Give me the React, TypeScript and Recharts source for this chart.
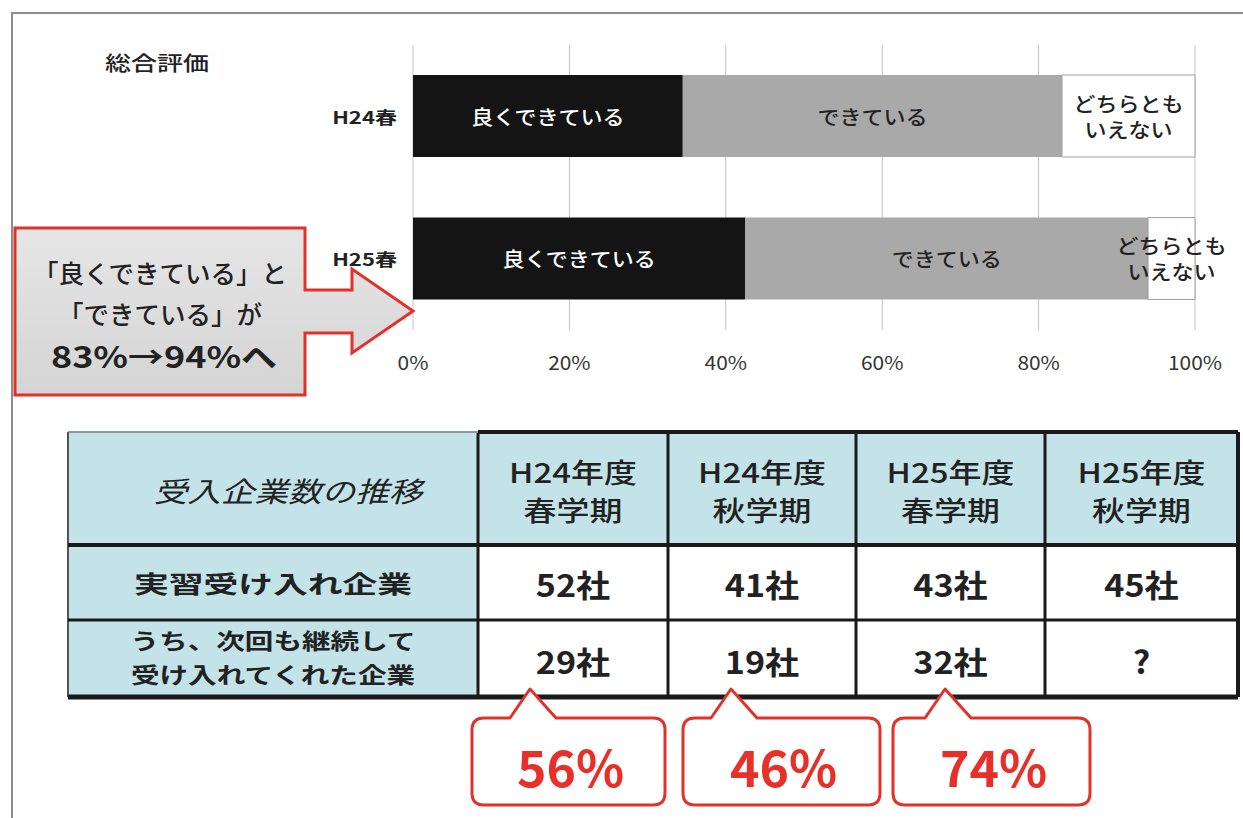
import React from 'react';
import { BarChart, Bar, XAxis, YAxis, CartesianGrid, LabelList } from 'recharts';

const FONT = '"Noto Sans CJK JP", "Noto Sans", sans-serif';

// 総合評価 (stacked %)
const periods = ['H24春', 'H25春'];
const goodShare = [34.5, 42.5];
const okShare = [48.5, 51.5];
const neutralShare = [17, 6];
const segmentNames = [['良くできている'], ['できている'], ['どちらとも', 'いえない']];
const pctTicks = [0, 20, 40, 60, 80, 100];

// 受入企業数の推移
const termHeaders = [
  ['H24年度', '春学期'],
  ['H24年度', '秋学期'],
  ['H25年度', '春学期'],
  ['H25年度', '秋学期'],
];
const hostCompanies = [52, 41, 43, 45];
const repeatCompanies: (number | null)[] = [29, 19, 32, null];
const retentionRates = [56, 46, 74];

const chartData = periods.map((p, i) => ({
  period: p,
  good: goodShare[i],
  ok: okShare[i],
  neutral: neutralShare[i],
}));

function SText({ x, y, size, weight = 400, fill = '#222', sx = 1, anchor = 'middle', italic = false, children }: any) {
  return (
    <text
      transform={`translate(${x},${y}) scale(${sx},1)`}
      textAnchor={anchor}
      dominantBaseline="central"
      fontSize={size}
      fontWeight={weight}
      fill={fill}
      fontFamily={FONT}
      fontStyle={italic ? 'italic' : 'normal'}
    >
      {children}
    </text>
  );
}

const segLabel = (seg: number, color: string, size: number) => (props: any) => {
  const { x, y, width, height } = props;
  const lines = segmentNames[seg];
  const cx = x + width / 2;
  const cy = y + height / 2;
  const gap = 26;
  return (
    <g>
      {lines.map((t, k) => (
        <SText key={k} x={cx} y={cy + (k - (lines.length - 1) / 2) * gap} size={size} weight={500} fill={color} sx={1.1}>
          {t}
        </SText>
      ))}
    </g>
  );
};

const XTick = ({ x, y, payload }: any) => (
  <SText x={x} y={y + 30} size={19} fill="#333" sx={1.1}>{payload.value}%</SText>
);

const YTick = ({ x, y, payload }: any) => (
  <SText x={x} y={y} size={17} weight={700} fill="#222" sx={1.3} anchor="end">{payload.value}</SText>
);

const colX = [68, 478, 668, 856, 1045, 1238];
const rowY = [432, 545, 620, 697];
const calloutBoxes = [[472, 665], [683, 880], [893, 1090]];
const calloutTips = [530, 731, 945];

function calloutPath(x0: number, x1: number, y0: number, y1: number, tip: number, tipY: number) {
  const r = 12;
  return `M${x0 + r},${y0} L${tip - 20},${y0} L${tip},${tipY} L${tip + 26},${y0} L${x1 - r},${y0} Q${x1},${y0} ${x1},${y0 + r} L${x1},${y1 - r} Q${x1},${y1} ${x1 - r},${y1} L${x0 + r},${y1} Q${x0},${y1} ${x0},${y1 - r} L${x0},${y0 + r} Q${x0},${y0} ${x0 + r},${y0} Z`;
}

export default function App() {
  const blue = '#c3e3e9';
  const line = '#1a1a1a';
  return (
    <div style={{ position: 'absolute', left: 0, top: 0, width: 1243, height: 818, background: '#fff', overflow: 'hidden' }}>
      <svg width={1243} height={818} style={{ position: 'absolute', left: 0, top: 0 }}>
        <path d="M12,818 L12,13 L1243,13" fill="none" stroke="#8c8c8c" strokeWidth={2} />
        <SText x={157} y={62} size={20} weight={500} sx={1.3}>総合評価</SText>

        {/* table */}
        <rect x={colX[0]} y={rowY[0]} width={colX[5] - colX[0]} height={rowY[1] - rowY[0]} fill={blue} />
        <rect x={colX[0]} y={rowY[1]} width={colX[1] - colX[0]} height={rowY[3] - rowY[1]} fill={blue} />
        {colX.slice(1, 5).map((x) => (
          <line key={x} x1={x} x2={x} y1={rowY[0]} y2={rowY[3]} stroke={line} strokeWidth={3} />
        ))}
        <line x1={colX[1]} x2={colX[5]} y1={rowY[0]} y2={rowY[0]} stroke={line} strokeWidth={4} />
        <line x1={colX[0]} x2={colX[1]} y1={rowY[0]} y2={rowY[0]} stroke="#8a9a9d" strokeWidth={2} />
        <line x1={colX[0]} x2={colX[0]} y1={rowY[0]} y2={rowY[3]} stroke="#555" strokeWidth={2} />
        <line x1={colX[5]} x2={colX[5]} y1={rowY[0]} y2={rowY[3]} stroke={line} strokeWidth={4} />
        <line x1={colX[0]} x2={colX[5]} y1={rowY[1]} y2={rowY[1]} stroke={line} strokeWidth={4} />
        <line x1={colX[0]} x2={colX[5]} y1={rowY[2]} y2={rowY[2]} stroke={line} strokeWidth={3} />
        <line x1={colX[0]} x2={colX[5]} y1={rowY[3]} y2={rowY[3]} stroke={line} strokeWidth={5} />

        <SText x={288} y={490} size={28} sx={1.2} italic>受入企業数の推移</SText>
        {termHeaders.map((h, i) => {
          const cx = (colX[i + 1] + colX[i + 2]) / 2;
          return (
            <g key={i}>
              <SText x={cx} y={471} size={27} weight={500} sx={1.22}>{h[0]}</SText>
              <SText x={cx} y={509} size={27} weight={500} sx={1.22}>{h[1]}</SText>
            </g>
          );
        })}
        <SText x={273} y={583} size={24} weight={700} sx={1.45}>実習受け入れ企業</SText>
        <SText x={273} y={639} size={22} weight={700} sx={1.3}>うち、次回も継続して</SText>
        <SText x={273} y={673} size={22} weight={700} sx={1.3}>受け入れてくれた企業</SText>
        {hostCompanies.map((v, i) => (
          <SText key={i} x={(colX[i + 1] + colX[i + 2]) / 2} y={583} size={31} weight={700} sx={1.1}>{v}社</SText>
        ))}
        {repeatCompanies.map((v, i) => (
          <SText key={i} x={(colX[i + 1] + colX[i + 2]) / 2} y={660} size={31} weight={700} sx={1.1}>
            {v === null ? '?' : `${v}社`}
          </SText>
        ))}

        {/* retention callouts */}
        {retentionRates.map((v, i) => {
          const [x0, x1] = calloutBoxes[i];
          return (
            <g key={i}>
              <path d={calloutPath(x0, x1, 718, 805, calloutTips[i], 689)} fill="#fff" stroke="#e0312b" strokeWidth={3} strokeLinejoin="round" />
              <SText x={(x0 + x1) / 2 + 2} y={765} size={50} weight={700} fill="#e8302a" sx={1}>{v}%</SText>
            </g>
          );
        })}
      </svg>

      <div style={{ position: 'absolute', left: 0, top: 0 }}>
        <BarChart width={1243} height={400} data={chartData} layout="vertical" margin={{ top: 45, right: 48, bottom: 0, left: 0 }} barCategoryGap={0}>
          <CartesianGrid horizontal={false} stroke="#c4c4c4" />
          <XAxis type="number" domain={[0, 100]} ticks={pctTicks} axisLine={false} tickLine={false} tickSize={0} height={70} tick={<XTick />} interval={0} />
          <YAxis type="category" dataKey="period" width={413} axisLine={false} tickLine={false} tickSize={0} tickMargin={16} tick={<YTick />} />
          <Bar dataKey="good" stackId="s" fill="#141414" barSize={82} isAnimationActive={false}>
            <LabelList content={segLabel(0, '#fff', 20)} />
          </Bar>
          <Bar dataKey="ok" stackId="s" fill="#a9a9a9" barSize={82} isAnimationActive={false}>
            <LabelList content={segLabel(1, '#222', 20)} />
          </Bar>
          <Bar dataKey="neutral" stackId="s" fill="#fff" stroke="#a0a0a0" strokeWidth={1} barSize={82} isAnimationActive={false}>
            <LabelList content={segLabel(2, '#222', 20)} />
          </Bar>
        </BarChart>
      </div>

      <svg width={420} height={400} style={{ position: 'absolute', left: 0, top: 0 }}>
        <defs>
          <linearGradient id="cg" x1="0" y1="0" x2="0" y2="1">
            <stop offset="0" stopColor="#e6e6e6" />
            <stop offset="1" stopColor="#d4d4d4" />
          </linearGradient>
        </defs>
        <path
          d="M15,228 L305,228 L305,290 L352,290 L352,269 L413,311 L352,353 L352,333 L305,333 L305,395 L15,395 Z"
          fill="url(#cg)"
          stroke="#e0312b"
          strokeWidth={3}
          strokeLinejoin="miter"
        />
        <SText x={160} y={272} size={25} weight={500} sx={1.02}>「良くできている」と</SText>
        <SText x={160} y={313} size={25} weight={500} sx={1.02}>「できている」が</SText>
        <SText x={164} y={355} size={30} weight={700} sx={1.2}>83%→94%へ</SText>
      </svg>
    </div>
  );
}
